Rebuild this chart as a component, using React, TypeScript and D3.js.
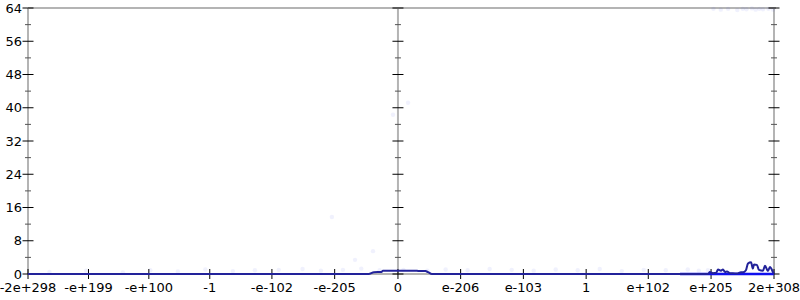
import React from "react";
import * as d3 from "d3";

// Tick labels of the x axis (positions in double bit-space, expressed by sign and log10 magnitude)
const xTickLabels = ["-2e+298", "-e+199", "-e+100", "-1", "-e-102", "-e-205", "0", "e-206", "e-103", "1", "e+102", "e+205", "2e+308"];
const xTickSigns = [-1, -1, -1, -1, -1, -1, 0, 1, 1, 1, 1, 1, 1];
const xTickLog10 = [298.301, 199, 100, 0, -102, -205, 0, -206, -103, 0, 102, 205, 308.301];

const yTicks = [0, 8, 16, 24, 32, 40, 48, 56, 64];
const yMinorTicks = [4, 12, 20, 28, 36, 44, 52, 60];

// Histogram line: position in bit-space (log2 units, signed) and count
const histPos = [-2017, -160, -131, -90, -82, 100, 109, 150, 164, 185, 1690, 1701, 1717, 1735, 1745, 1761, 1772, 1783, 1794, 1810, 1826, 1848, 1870, 1881, 1897, 1908, 1925, 1935, 1941, 1957, 1968, 1990, 2001, 2017, 2028, 2044, 2050];
const histCount = [0, 0, 0.45, 0.5, 0.8, 0.8, 0.75, 0.7, 0.45, 0, 0, 0.5, 0.2, 0.3, 1.1, 0.8, 1.1, 0.5, 0.6, 0.2, 0.2, 0.1, 0.4, 0.4, 0.9, 2.5, 2.8, 1.3, 2.3, 2.2, 1.0, 0.8, 2.0, 0.7, 1.7, 0.5, 0];

// Bright baseline segment near the upper end
const basePos = [1538, 2050];
const baseCount = [0, 0];

// Faint sample dots
const dotPos = [55, -27, -360, -136, -234, 1720, 1760, 1800, 1850, 1880, 1900, 1930, 1950, 1970, 1990, 2020, 2045,
  -1900, -1700, -1500, -1350, -1200, -1050, -900, -780, -650, -520, -420, -300, -200, -100, 30, 160, 260, 380, 500, 620, 740, 860, 980, 1100, 1220, 1340, 1460, 1580, 1640, 1690];
const dotCount = [41.2, 38.3, 13.7, 5.5, 3.4, 63.8, 63.6, 63.8, 63.5, 63.8, 63.7, 63.9, 63.6, 63.8, 63.7, 63.8, 63.6,
  0.5, 0.8, 0.4, 0.9, 0.6, 1.1, 0.7, 0.9, 1.0, 1.2, 0.8, 1.0, 1.3, 0.9, 1.0, 0.8, 1.1, 0.9, 1.2, 1.0, 0.8, 1.1, 0.9, 1.2, 0.7, 1.0, 0.9, 1.1, 0.8, 0.9];

const LOG2_10 = Math.log2(10);
const toBitPos = (sign: number, log10: number) => (sign === 0 ? 0 : sign * (log10 * LOG2_10 + 1026));

const W = 800;
const H = 300;
const LEFT = 28;
const RIGHT = 774;
const TOP = 8;
const BOTTOM = 274;

export default function App() {
  const xTickPos = xTickLabels.map((_, i) => toBitPos(xTickSigns[i], xTickLog10[i]));
  const x = d3.scaleLinear().domain([xTickPos[0], xTickPos[xTickPos.length - 1]]).range([LEFT, RIGHT]);
  const y = d3.scaleLinear().domain([0, 64]).range([BOTTOM, TOP]);
  const cx = x(0);

  const line = d3
    .line<number>()
    .x((_, i) => x(histPos[i]))
    .y((d) => y(d))
    .curve(d3.curveMonotoneX);
  const baseLine = d3
    .line<number>()
    .x((_, i) => x(basePos[i]))
    .y((d) => y(d));

  const font = "DejaVu Sans, sans-serif";
  const axisColor = "#b4b4b4";
  const vAxes = [LEFT, cx, RIGHT];

  return (
    <svg width={W} height={H} style={{ position: "absolute", left: 0, top: 0, background: "#fff" }}>
      {/* frame / axis lines */}
      <line x1={LEFT} x2={RIGHT + 2} y1={TOP} y2={TOP} stroke={axisColor} strokeWidth={2} />
      <line x1={LEFT} x2={RIGHT} y1={BOTTOM} y2={BOTTOM} stroke={axisColor} strokeWidth={2} />
      {vAxes.map((ax, i) => (
        <line key={"ax" + i} x1={ax} x2={ax} y1={TOP} y2={BOTTOM} stroke={axisColor} strokeWidth={2} />
      ))}

      {/* faint dots */}
      {dotPos.map((p, i) => (
        <circle key={"d" + i} cx={x(p)} cy={y(dotCount[i])} r={2.2} fill="#4050e0" fillOpacity={0.08} />
      ))}

      {/* y ticks on each vertical axis */}
      {vAxes.map((ax, j) => (
        <g key={"yt" + j}>
          {yTicks.map((t) => (
            <line key={"M" + t} x1={ax - 5.5} x2={ax + 5.5} y1={y(t)} y2={y(t)} stroke="#000" strokeWidth={1} />
          ))}
          {yMinorTicks.map((t) => (
            <line key={"m" + t} x1={ax - 3} x2={ax + 3} y1={y(t)} y2={y(t)} stroke="#555" strokeWidth={1} />
          ))}
        </g>
      ))}

      {/* y labels */}
      {yTicks.map((t) => (
        <text key={"yl" + t} x={LEFT - 6} y={y(t)} dy="0.35em" textAnchor="end" fontFamily={font} fontSize={13} fill="#000">
          {t}
        </text>
      ))}

      {/* x ticks + labels */}
      {xTickPos.map((p, i) => (
        <g key={"xt" + i}>
          <line x1={x(p)} x2={x(p)} y1={BOTTOM - 5} y2={BOTTOM + 5} stroke="#000" strokeWidth={1} />
          <text x={x(p)} y={BOTTOM + 18} textAnchor="middle" fontFamily={font} fontSize={13} fill="#000">
            {xTickLabels[i]}
          </text>
        </g>
      ))}

      {/* bright base segment */}
      <path d={baseLine(baseCount) || ""} fill="none" stroke="#1010ee" strokeWidth={2.5} />
      {/* histogram line */}
      <path d={line(histCount) || ""} fill="none" stroke="#22229a" strokeWidth={2} />
    </svg>
  );
}
